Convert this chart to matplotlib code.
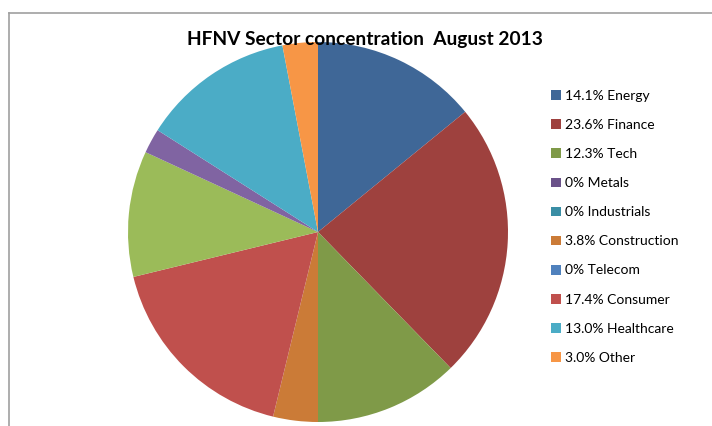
import matplotlib
matplotlib.use("Agg")
import matplotlib.pyplot as plt
from matplotlib.patches import Patch
from matplotlib.lines import Line2D

plt.rcParams["font.family"] = ["Lato", "DejaVu Sans"]

# slices clockwise from 12 o'clock (two slices have no legend entry)
sectors = ["Energy", "Finance", "Tech", "Metals", "Industrials", "Construction",
           "Telecom", "Consumer", "", "", "Healthcare", "Other"]
shares = [14.1, 23.6, 12.3, 0, 0, 3.8, 0, 17.4, 10.7, 2.1, 13.0, 3.0]
share_labels = ["14.1%", "23.6%", "12.3%", "0%", "0%", "3.8%", "0%", "17.4%",
                "", "", "13.0%", "3.0%"]
colors = ["#3F6797", "#9E413E", "#7F9A48", "#6A5189", "#3A8EA5", "#CB7B37",
          "#4F81BD", "#C0504D", "#9BBB59", "#8064A2", "#4BACC6", "#F79646"]

W, H = 712, 426
fig = plt.figure(figsize=(W / 100, H / 100), dpi=100)

# chart frame (only top and left edges show)
fig.add_artist(Line2D([9 / W, 9 / W], [0, 1 - 13 / H], color="#A0A0A0", lw=1.2))
fig.add_artist(Line2D([9 / W, 1], [1 - 13 / H, 1 - 13 / H], color="#A0A0A0", lw=1.2))

cx, cy, r = 318, 232, 190
ax = fig.add_axes([(cx - r) / W, (H - cy - r) / H, 2 * r / W, 2 * r / H])
ax.pie(shares, colors=colors, startangle=90, counterclock=False,
       wedgeprops={"linewidth": 0})
ax.set_aspect("equal")
ax.set_xlim(-1, 1)
ax.set_ylim(-1, 1)
ax.axis("off")

fig.text(365 / W, 1 - 39 / H, "HFNV Sector concentration  August 2013",
         ha="center", va="center", fontsize=13.8, fontweight="bold", zorder=5)

handles, labels = [], []
for name, lab, col in zip(sectors, share_labels, colors):
    if not name:
        continue
    handles.append(Patch(facecolor=col, edgecolor="none"))
    labels.append(f"{lab} {name}")
fig.legend(handles, labels, loc="upper left", bbox_to_anchor=(551 / W, 1 - 90 / H),
           frameon=False, fontsize=10, labelspacing=1.23, handlelength=0.7,
           handleheight=0.7, handletextpad=0.3, borderaxespad=0, borderpad=0)

fig.savefig("out.png", dpi=100)
